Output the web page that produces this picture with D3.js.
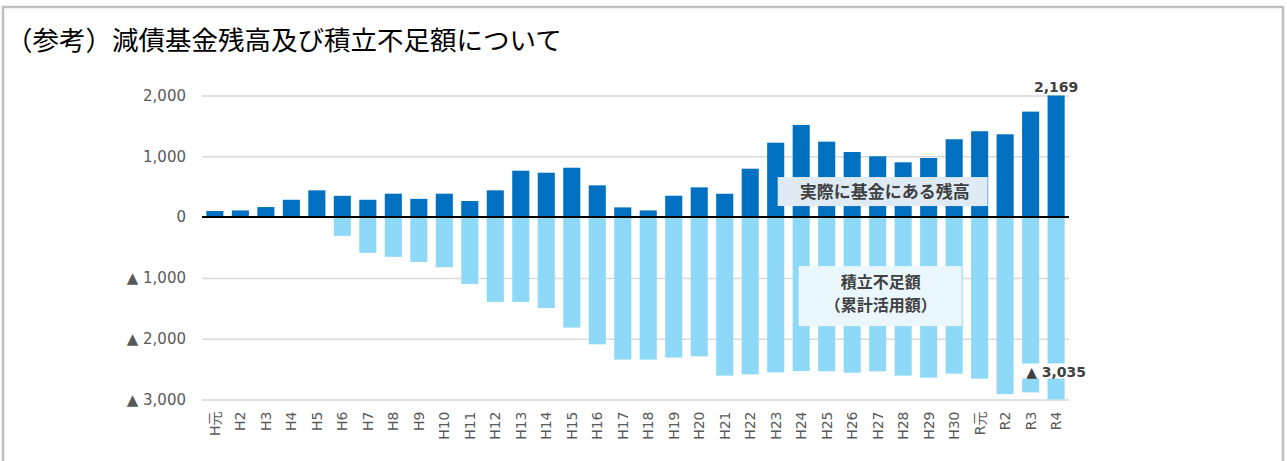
<!DOCTYPE html>
<html>
<meta charset="utf-8">
<script src="https://d3js.org/d3.v7.min.js"></script>
<style>
  body { margin: 0; background: #fff; }
  text { font-family: "DejaVu Sans", "Noto Sans CJK JP", sans-serif; }
</style>
<body>
<div id="chart"></div>
<script>
// fiscal years (平成元年 .. 令和4年)
var years = ["H元", "H2", "H3", "H4", "H5", "H6", "H7", "H8", "H9", "H10",
  "H11", "H12", "H13", "H14", "H15", "H16", "H17", "H18", "H19", "H20",
  "H21", "H22", "H23", "H24", "H25", "H26", "H27", "H28", "H29", "H30",
  "R元", "R2", "R3", "R4"];

// 実際に基金にある残高 (億円)
var fundBalance = [100, 110, 165, 285, 440, 350, 285, 385, 300, 385,
  265, 440, 763, 730, 812, 522, 160, 110, 351, 489,
  384, 796, 1224, 1516, 1241, 1071, 1000, 901, 972, 1280,
  1412, 1362, 1735, 2169];

// 積立不足額（累計活用額）
var shortfall = [0, 0, 0, 0, 0, -308, -588, -654, -738, -824,
  -1099, -1395, -1395, -1494, -1817, -2092, -2344, -2344, -2311, -2290,
  -2608, -2587, -2554, -2532, -2537, -2559, -2537, -2608, -2641, -2575,
  -2657, -2911, -2883, -3035];

var yTicks = [2000, 1000, 0, -1000, -2000, -3000];

var W = 1287, H = 461;
var m = {left: 202, right: 1069, top: 95.5, bottom: 399.5};

var svg = d3.select("#chart").append("svg")
    .attr("width", W)
    .attr("height", H);

// outer frame (open at the bottom)
svg.append("rect")
    .attr("x", 3).attr("y", 7)
    .attr("width", 1280).attr("height", 480)
    .attr("fill", "none")
    .attr("stroke", "#bfbfbf")
    .attr("stroke-width", 2.5);

svg.append("text")
    .attr("x", 6).attr("y", 50)
    .style("font-family", "'Noto Sans CJK JP'")
    .style("font-size", "26.5px")
    .attr("fill", "#000")
    .text("（参考）減債基金残高及び積立不足額について");

var x = d3.scaleBand()
    .domain(years)
    .range([m.left, m.right])
    .paddingInner(0.33)
    .paddingOuter(0.17);

var y = d3.scaleLinear()
    .domain([-3000, 2000])
    .range([m.bottom, m.top]);

// gridlines + labels
var yAxis = svg.append("g")
    .attr("transform", "translate(" + m.left + ",0)")
    .call(d3.axisLeft(y)
        .tickValues(yTicks)
        .tickSize(-(m.right - m.left))
        .tickPadding(16)
        .tickFormat(function(d) {
            return d < 0 ? "▲ " + d3.format(",")(-d) : d3.format(",")(d);
        }));
yAxis.select(".domain").remove();
yAxis.selectAll("line")
    .attr("stroke", "#d9d9d9")
    .attr("stroke-width", 1.5);
yAxis.selectAll("text")
    .attr("fill", "#595959")
    .style("font-size", "15px");

svg.append("clipPath").attr("id", "plot")
  .append("rect")
    .attr("x", m.left).attr("y", m.top)
    .attr("width", m.right - m.left).attr("height", m.bottom - m.top);

var bars = svg.append("g").attr("clip-path", "url(#plot)");

bars.selectAll(".pos")
    .data(fundBalance)
    .enter().append("rect")
    .attr("class", "pos")
    .attr("x", function(d, i) { return x(years[i]); })
    .attr("y", function(d) { return y(d); })
    .attr("width", x.bandwidth())
    .attr("height", function(d) { return y(0) - y(d); })
    .attr("fill", "#0070c0");

bars.selectAll(".neg")
    .data(shortfall)
    .enter().append("rect")
    .attr("class", "neg")
    .attr("x", function(d, i) { return x(years[i]); })
    .attr("y", y(0))
    .attr("width", x.bandwidth())
    .attr("height", function(d) { return y(d) - y(0); })
    .attr("fill", "#8fd9f8");

// zero line
svg.append("line")
    .attr("x1", m.left).attr("x2", m.right)
    .attr("y1", y(0)).attr("y2", y(0))
    .attr("stroke", "#000")
    .attr("stroke-width", 2);

// x labels (rotated)
svg.append("g").selectAll("text")
    .data(years)
    .enter().append("text")
    .attr("transform", function(d) {
        return "translate(" + (x(d) + x.bandwidth() / 2) + "," + (m.bottom + 12) + ") rotate(-90)";
    })
    .attr("dy", "0.36em")
    .attr("text-anchor", "end")
    .attr("fill", "#595959")
    .style("font-size", "14px")
    .text(function(d) { return d; });

// annotation boxes
var cx = x("H27") + x.bandwidth() / 2;

svg.append("rect")
    .attr("x", cx - 100).attr("y", y(420) - 14.5)
    .attr("width", 210).attr("height", 29)
    .attr("fill", "#deeaf4");
svg.append("text")
    .attr("x", cx + 7).attr("y", y(420))
    .attr("dy", "0.36em")
    .attr("text-anchor", "middle")
    .attr("fill", "#404040")
    .style("font-family", "'Noto Sans CJK JP'")
    .style("font-size", "17px")
    .style("font-weight", "bold")
    .text("実際に基金にある残高");

svg.append("rect")
    .attr("x", cx - 79).attr("y", y(-1300) - 30)
    .attr("width", 163).attr("height", 60)
    .attr("fill", "#eaf7fd");
var t2 = svg.append("text")
    .attr("text-anchor", "middle")
    .attr("fill", "#404040")
    .style("font-family", "'Noto Sans CJK JP'")
    .style("font-size", "16px")
    .style("font-weight", "bold");
t2.append("tspan").attr("x", cx + 3).attr("y", y(-1300) - 8).text("積立不足額");
t2.append("tspan").attr("x", cx + 3).attr("y", y(-1300) + 15).text("（累計活用額）");

// value labels on R4
var last = years.length - 1;
var lx = x(years[last]) + x.bandwidth() / 2;

svg.append("text")
    .attr("x", lx).attr("y", y(2000) - 4)
    .attr("text-anchor", "middle")
    .attr("fill", "#404040")
    .style("font-size", "14px")
    .style("font-weight", "bold")
    .text(d3.format(",")(fundBalance[last]));

svg.append("rect")
    .attr("x", lx - 35).attr("y", y(-3000) - 36)
    .attr("width", 70).attr("height", 15)
    .attr("fill", "#fff");
svg.append("text")
    .attr("x", lx).attr("y", y(-3000) - 23)
    .attr("text-anchor", "middle")
    .attr("fill", "#404040")
    .style("font-size", "14px")
    .style("font-weight", "bold")
    .text("▲ " + d3.format(",")(-shortfall[last]));
</script>
</body>
</html>
